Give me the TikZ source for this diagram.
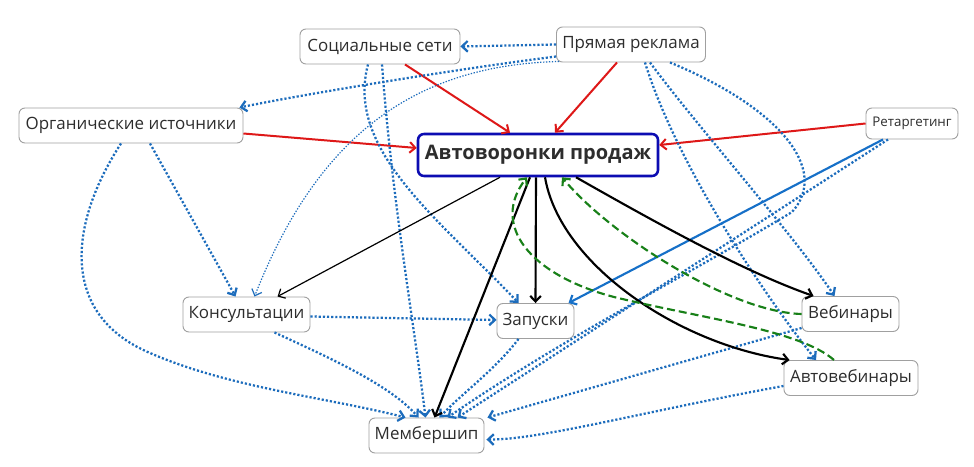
\documentclass[tikz,border=0pt]{standalone}
\usepackage{fontspec}
\setmainfont{Open Sans}
\usetikzlibrary{arrows.meta,calc}
\definecolor{redl}{RGB}{222,24,24}
\definecolor{bluel}{RGB}{28,108,188}
\definecolor{bluesolid}{RGB}{22,112,200}
\definecolor{greenl}{RGB}{24,128,24}
\definecolor{boxgray}{RGB}{160,160,160}
\definecolor{txt}{RGB}{45,45,45}
\definecolor{mainblue}{RGB}{12,12,178}
\tikzset{
  box/.style={draw=boxgray, line width=0.7pt, rounded corners=4.5pt, fill=white, text=txt,
    font=\fontsize{12.7}{14}\selectfont, inner sep=0pt, minimum height=26.25pt},
  mainbox/.style={box, draw=mainblue, line width=1.9pt, minimum height=31.5pt,
    font=\fontsize{15}{17}\bfseries\selectfont},
  tip/.style={-{Straight Barb[length=4.2pt,width=8pt]}},
  redarr/.style={tip, draw=redl, line width=1.5pt},
  dotarr/.style={tip, draw=bluel, line width=1.7pt, dash pattern=on 1.6pt off 1.5pt},
  thindot/.style={tip, draw=bluel, line width=0.9pt, dash pattern=on 1pt off 1.2pt},
  blackarr/.style={tip, draw=black, line width=1.6pt},
  thinblack/.style={tip, draw=black, line width=0.9pt},
  bluearr/.style={tip, draw=bluesolid, line width=1.6pt},
  greenarr/.style={tip, draw=greenl, line width=1.6pt, dash pattern=on 6pt off 3pt}
}
\begin{document}
\begin{tikzpicture}[x=0.75pt,y=-0.75pt]
\useasboundingbox (0,0) rectangle (974,467);
\fill[white] (0,0) rectangle (974,467);

% nodes
\node[box, minimum width=120pt] (soc) at (380,46.5) {Социальные сети};
\node[box, minimum width=111.75pt] (pr) at (631,44.5) {Прямая реклама};
\node[box, minimum width=168pt] (org) at (131,125.5) {Органические источники};
\node[mainbox, minimum width=180pt] (main) at (538,155) {Автоворонки продаж};
\node[box, minimum width=69pt, minimum height=23.25pt, font=\fontsize{10}{12}\selectfont] (ret) at (912,123.5) {Ретаргетинг};
\node[box, minimum width=95.25pt] (kons) at (246.5,314.5) {Консультации};
\node[box, minimum width=57.75pt] (zap) at (535.5,321) {Запуски};
\node[box, minimum width=72.75pt] (veb) at (850.5,314) {Вебинары};
\node[box, minimum width=100.5pt] (aveb) at (851,378) {Автовебинары};
\node[box, minimum width=86.25pt] (mem) at (426.5,435.5) {Мембершип};

% red arrows into main
\draw[redarr] ($(soc.south)+(25,0)$) -- ($(main.north)+(-28,0)$);
\draw[redarr] ($(pr.south)+(-14,0)$) -- ($(main.north)+(17,0)$);
\draw[redarr] ($(org.east)+(0,8)$) -- ($(main.west)+(0,-7)$);
\draw[redarr] (ret.west) -- ($(main.east)+(0,-10)$);

% blue dotted
\draw[dotarr] (pr.west) -- (soc.east);
\draw[dotarr] ($(pr.west)+(0,12)$) .. controls (450,70) and (300,95) .. ($(org.north east)+(-4,0)$);
\draw[thindot] ($(pr.south west)+(3,-1)$) .. controls (420,65) and (320,130) .. ($(kons.north)+(8,0)$);
\draw[dotarr] ($(soc.south)+(-12,0)$) .. controls (345,150) and (440,220) .. ($(zap.north)+(-17,0)$);
\draw[dotarr] ($(soc.south)+(2,0)$) .. controls (392,200) and (415,330) .. ($(mem.north)+(-1,0)$);
\draw[dotarr] ($(org.south)+(-10,0)$) .. controls (68,225) and (60,315) .. (150,353)
   .. controls (230,388) and (330,398) .. ($(mem.north)+(-21,0)$);
\draw[dotarr] ($(org.south)+(19,0)$) -- ($(kons.north)+(-11,0)$);
\draw[dotarr] ($(kons.east)+(0,2)$) -- ($(zap.west)+(0,-1)$);
\draw[dotarr] ($(kons.south)+(28,0)$) .. controls (330,358) and (390,385) .. ($(mem.north)+(-8,0)$);
\draw[dotarr] ($(zap.south)+(-17,0)$) .. controls (495,370) and (460,395) .. ($(mem.north)+(13,0)$);
\draw[dotarr] ($(ret.south)+(-24,0)$) -- ($(mem.north)+(31,0)$);
\draw[dotarr] ($(pr.south)+(39,0)$) .. controls (780,108) and (830,170) .. (792,212)
   .. controls (700,268) and (560,340) .. ($(mem.north)+(21,0)$);
\draw[dotarr] ($(pr.south)+(14,0)$) .. controls (675,160) and (760,290) .. ($(aveb.north)+(-35,0)$);
\draw[dotarr] ($(pr.south)+(19,0)$) .. controls (700,130) and (790,230) .. ($(veb.north)+(-16,0)$);
\draw[dotarr] ($(veb.west)+(0,14)$) -- ($(mem.north east)+(3,0)$);
\draw[dotarr] ($(aveb.west)+(0,8)$) .. controls (650,410) and (540,440) .. ($(mem.east)+(2,4)$);

% blue solid
\draw[bluearr] ($(ret.south)+(-29,0)$) -- ($(zap.north)+(33,0)$);

% black arrows from main
\draw[thinblack] ($(main.south)+(-38,0)$) -- ($(kons.north)+(31,0)$);
\draw[blackarr] ($(main.south)+(-2,0)$) -- (zap.north);
\draw[blackarr] ($(main.south)+(-8,0)$) -- ($(mem.north)+(8,0)$);
\draw[blackarr] ($(main.south)+(7,0)$) .. controls (560,265) and (680,345) .. ($(aveb.north west)+(6,0)$);
\draw[blackarr] ($(main.south)+(38,0)$) .. controls (660,225) and (745,272) .. ($(veb.north west)+(12,0)$);

% green dashed back to main
\draw[greenarr] (veb.west) .. controls (730,312) and (610,235) .. ($(main.south)+(24,0)$);
\draw[greenarr] ($(aveb.north)+(-17,0)$) .. controls (800,330) and (700,318) .. (614,297)
   .. controls (530,275) and (490,225) .. ($(main.south)+(-11,0)$);
\end{tikzpicture}
\end{document}
